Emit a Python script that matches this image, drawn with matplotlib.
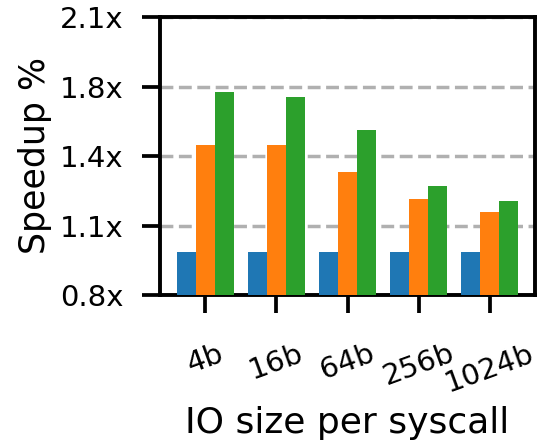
import numpy as np
import matplotlib
matplotlib.use("Agg")
import matplotlib.pyplot as plt

# speedup per IO size, three configurations
sizes = ["4b", "16b", "64b", "256b", "1024b"]
baseline = [1.0, 1.0, 1.0, 1.0, 1.0]
series_b = [1.50, 1.50, 1.375, 1.25, 1.19]
series_c = [1.75, 1.725, 1.57, 1.31, 1.24]

yticks = np.linspace(0.8, 2.1, 5)
ytick_labels = ["0.8x", "1.1x", "1.4x", "1.8x", "2.1x"]

fig = plt.figure(figsize=(5.37, 4.43), dpi=100)
ax = fig.add_axes([160 / 537, 1 - 295 / 443, 375 / 537, 278 / 443])

x = np.arange(len(sizes))
w = 0.8 / 3
ax.bar(x - w, baseline, w, color="tab:blue", zorder=3)
ax.bar(x, series_b, w, color="tab:orange", zorder=3)
ax.bar(x + w, series_c, w, color="tab:green", zorder=3)

ax.set_ylim(0.8, 2.1)
ax.set_yticks(yticks)
ax.set_yticklabels(ytick_labels, fontsize=21)
ax.set_xticks(x)
ax.set_xticklabels(sizes, rotation=20, fontsize=21, ha="center")
ax.tick_params(axis="x", length=13, width=2.7, pad=19)
ax.tick_params(axis="y", length=13, width=2.7, pad=13)
for s in ax.spines.values():
    s.set_linewidth(2.8)

ax.yaxis.grid(True, linestyle="--", color="#b0b0b0", linewidth=2.5, zorder=0)
ax.set_axisbelow(True)

ax.set_ylabel("Speedup %", fontsize=25, labelpad=6)
ax.set_xlabel("IO size per syscall", fontsize=26, labelpad=6)

fig.savefig("out.png", dpi=100)
